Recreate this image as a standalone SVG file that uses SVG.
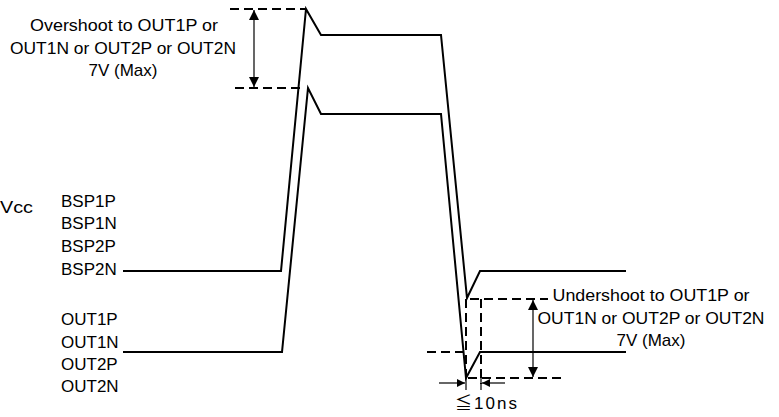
<svg xmlns="http://www.w3.org/2000/svg" width="779" height="417" viewBox="0 0 779 417">
<style>
text{font-family:"Liberation Sans","Noto Sans CJK JP",sans-serif;font-size:17px;fill:#000}
.mid{text-anchor:middle}
.wave{fill:none;stroke:#000;stroke-width:2;stroke-linejoin:miter}
.dash{fill:none;stroke:#000;stroke-width:2;stroke-dasharray:9,5}
.thin{fill:none;stroke:#000;stroke-width:1.2}
</style>
<defs>
<marker id="ah" viewBox="0 0 10 10" refX="10" refY="5" markerWidth="10" markerHeight="10" markerUnits="userSpaceOnUse" orient="auto-start-reverse">
<path d="M0,0 L10,5 L0,10 Z" fill="#000"/>
</marker>
<marker id="ahs" viewBox="0 0 10 10" refX="10" refY="5" markerWidth="8" markerHeight="8" markerUnits="userSpaceOnUse" orient="auto-start-reverse">
<path d="M0,0 L10,5 L0,10 Z" fill="#000"/>
</marker>
</defs>
<g id="labels">
<text x="0" y="213" textLength="33" lengthAdjust="spacingAndGlyphs">Vcc</text>
<text x="61" y="207">BSP1P</text>
<text x="61" y="229">BSP1N</text>
<text x="61" y="252">BSP2P</text>
<text x="61" y="275">BSP2N</text>
<text x="61" y="325">OUT1P</text>
<text x="61" y="348">OUT1N</text>
<text x="61" y="370">OUT2P</text>
<text x="61" y="392">OUT2N</text>
</g>
<g id="overshoot-label">
<text class="mid" x="124" y="31" textLength="188" lengthAdjust="spacingAndGlyphs">Overshoot to OUT1P or</text>
<text class="mid" x="123" y="54" textLength="226" lengthAdjust="spacingAndGlyphs">OUT1N or OUT2P or OUT2N</text>
<text class="mid" x="123" y="76">7V (Max)</text>
</g>
<g id="undershoot-label">
<text class="mid" x="651" y="301" textLength="197" lengthAdjust="spacingAndGlyphs">Undershoot to OUT1P or</text>
<text class="mid" x="651" y="324" textLength="227" lengthAdjust="spacingAndGlyphs">OUT1N or OUT2P or OUT2N</text>
<text class="mid" x="651" y="346">7V (Max)</text>
</g>
<g id="time-label">
<text x="455" y="409" textLength="62" lengthAdjust="spacing">≦10ns</text>
</g>
<g id="waveforms">
<polyline id="bsp" class="wave" points="123,271 281,271 306,9 321,35 441,35 467,298 480,271 626,271"/>
<polyline id="out" class="wave" points="123,352 282,352 308,88 321,114 441,114 466,378 480,352 626,352"/>
</g>
<g id="connectors">
<line class="dash" x1="230" y1="9" x2="305" y2="9"/>
<line class="dash" x1="235" y1="88" x2="302" y2="88"/>
<line class="thin" x1="254" y1="10" x2="254" y2="87" marker-start="url(#ah)" marker-end="url(#ah)"/>
<line class="dash" x1="470" y1="299" x2="548" y2="299"/>
<line class="dash" x1="466" y1="299" x2="466" y2="378"/>
<line class="dash" x1="481" y1="299" x2="481" y2="384"/>
<line class="dash" x1="468" y1="378" x2="562" y2="378"/>
<line class="dash" x1="427" y1="352" x2="464" y2="352"/>
<line class="thin" x1="533" y1="300" x2="533" y2="377" marker-start="url(#ah)" marker-end="url(#ah)"/>
<line class="thin" x1="439" y1="383" x2="465" y2="383" marker-end="url(#ahs)"/>
<line class="thin" x1="505" y1="383" x2="482" y2="383" marker-end="url(#ahs)"/>
<line class="thin" x1="466" y1="378" x2="466" y2="390"/>
<line class="thin" x1="481" y1="378" x2="481" y2="390"/>
</g>
</svg>
